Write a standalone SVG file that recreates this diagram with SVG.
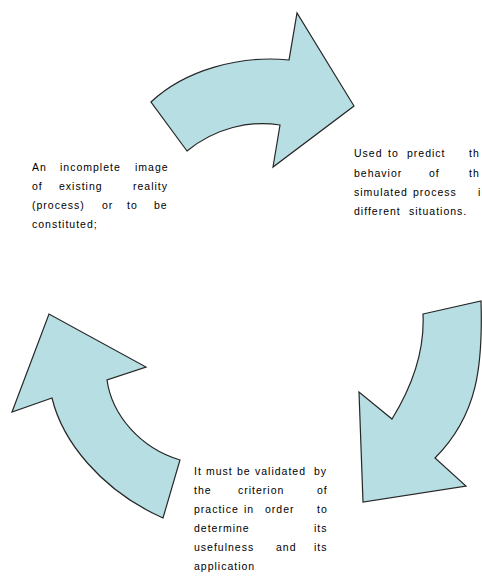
<svg xmlns="http://www.w3.org/2000/svg" width="482" height="576" viewBox="0 0 482 576">
  <style>
    .arrow { fill: #b7dee3; stroke: #262626; stroke-width: 1.2; stroke-linejoin: miter; }
    .t { font-family: "Liberation Sans", Arial, sans-serif; font-size: 10.5px; letter-spacing: 1px; fill: #000; }
  </style>
  <rect width="482" height="576" fill="#ffffff"/>
  <g id="connectors">
    <path id="arrow-top" class="arrow" d="M151,102 C185,70 240,55 289,60 L297,13 L354,106 L273,167 L280,125 C250,120 215,128 187,151 Z"/>
    <path id="arrow-right" class="arrow" d="M423,314 L481,301 C483,365 478,415 435,458 L466,486 L363,502 L359,392 L392,419 C410,390 425,355 423,314 Z"/>
    <path id="arrow-left" class="arrow" d="M163,518 C100,490 62,440 52,398 L12,412 L49,314 L146,367 L107,380 C112,415 140,448 180,460 Z"/>
  </g>
  <g id="node-image">
    <text class="t" y="171"><tspan x="32">An </tspan><tspan x="60">incomplete </tspan><tspan x="135">image</tspan></text>
    <text class="t" y="190"><tspan x="32">of </tspan><tspan x="59">existing </tspan><tspan x="133">reality</tspan></text>
    <text class="t" y="209"><tspan x="32">(process) </tspan><tspan x="102">or </tspan><tspan x="127">to </tspan><tspan x="154">be</tspan></text>
    <text class="t" y="228"><tspan x="32">constituted;</tspan></text>
  </g>
  <g id="node-predict">
    <text class="t" y="157"><tspan x="354">Used </tspan><tspan x="388">to </tspan><tspan x="407">predict </tspan><tspan x="469">th</tspan></text>
    <text class="t" y="177"><tspan x="354">behavior </tspan><tspan x="429">of </tspan><tspan x="469">th</tspan></text>
    <text class="t" y="196"><tspan x="354">simulated </tspan><tspan x="413">process </tspan><tspan x="478">i</tspan></text>
    <text class="t" y="215"><tspan x="354">different </tspan><tspan x="409">situations.</tspan></text>
  </g>
  <g id="node-validate">
    <text class="t" y="475"><tspan x="194">It </tspan><tspan x="206">must </tspan><tspan x="237">be </tspan><tspan x="255">validated </tspan><tspan x="314">by</tspan></text>
    <text class="t" y="494"><tspan x="194">the </tspan><tspan x="238">criterion </tspan><tspan x="317">of</tspan></text>
    <text class="t" y="513"><tspan x="194">practice </tspan><tspan x="244">in </tspan><tspan x="265">order </tspan><tspan x="317">to</tspan></text>
    <text class="t" y="532"><tspan x="194">determine </tspan><tspan x="314">its</tspan></text>
    <text class="t" y="551"><tspan x="194">usefulness </tspan><tspan x="276">and </tspan><tspan x="314">its</tspan></text>
    <text class="t" y="570"><tspan x="194">application</tspan></text>
  </g>
</svg>
